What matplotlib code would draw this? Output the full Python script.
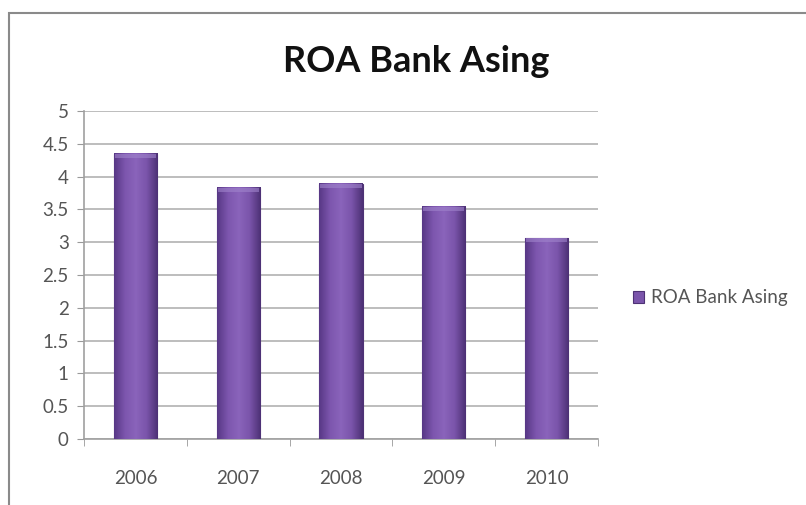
import numpy as np
import matplotlib
matplotlib.use('Agg')
import matplotlib.pyplot as plt
from matplotlib.patches import Rectangle
from matplotlib.colors import LinearSegmentedColormap

# data
years = ['2006', '2007', '2008', '2009', '2010']
roa = [4.35, 3.83, 3.89, 3.54, 3.06]
series_name = 'ROA Bank Asing'

plt.rcParams['font.family'] = ['Lato', 'DejaVu Sans']

fig = plt.figure(figsize=(8.06, 5.05), dpi=100)
fig.patch.set_facecolor('white')

# outer chart frame
fig.patches.append(Rectangle((9/806, -0.2), 1.2, 1.2 - 13/505,
                             transform=fig.transFigure, fill=False,
                             edgecolor='#8a8a8a', linewidth=1.5))

ax = fig.add_axes([84/806, 1 - 439/505, 514/806, 328/505])

x = np.arange(len(years))
width = 0.42
bars = ax.bar(x, roa, width, color='#7b55ab', edgecolor='#4e3275',
              linewidth=0.8, zorder=3, label=series_name)

# horizontal shading inside each bar
shade = LinearSegmentedColormap.from_list(
    'shade', ['#583886', '#7d56ae', '#8a64bb', '#7a54aa', '#4d3175'])
grad = np.linspace(0, 1, 64).reshape(1, -1)
for b in bars:
    bx, bw, bh = b.get_x(), b.get_width(), b.get_height()
    ax.imshow(grad, cmap=shade, aspect='auto', zorder=3.5,
              extent=(bx, bx + bw, 0, bh), interpolation='bilinear')
    # soft bevel at the top
    ax.add_patch(Rectangle((bx + 0.01, bh - 0.06), bw - 0.02, 0.06,
                           color='#a084cc', alpha=0.6, zorder=3.6, linewidth=0))

ax.set_xlim(-0.5, len(years) - 0.5)
ax.set_ylim(0, 5)
ax.set_yticks(np.arange(0, 5.01, 0.5))
ax.set_yticklabels(['0', '0.5', '1', '1.5', '2', '2.5', '3', '3.5', '4', '4.5', '5'])
ax.set_xticks(x)
ax.set_xticklabels(years)
ax.set_xticks(np.arange(-0.5, len(years), 1), minor=True)
ax.tick_params(axis='x', which='major', length=0, pad=22,
               labelsize=13.5, labelcolor='#555555')
ax.tick_params(axis='x', which='minor', length=5, color='#999999')
ax.tick_params(axis='y', length=5, color='#999999', pad=6,
               labelsize=13.5, labelcolor='#555555')

ax.grid(axis='y', color='#bdbdbd', linewidth=1.4, zorder=0)
for s in ['top', 'right']:
    ax.spines[s].set_visible(False)
for s in ['left', 'bottom']:
    ax.spines[s].set_color('#a0a0a0')
    ax.spines[s].set_linewidth(1.2)

fig.text(416/806, 1 - 62/505, 'ROA Bank Asing', ha='center', va='center',
         fontsize=26, fontweight='bold', color='#111111')

leg = ax.legend(loc='center left', bbox_to_anchor=(1.035, 0.43), frameon=False,
                handlelength=0.6, handleheight=0.6, handletextpad=0.35,
                fontsize=13.5)
for t in leg.get_texts():
    t.set_color('#555555')

fig.savefig('out.png', dpi=100)
